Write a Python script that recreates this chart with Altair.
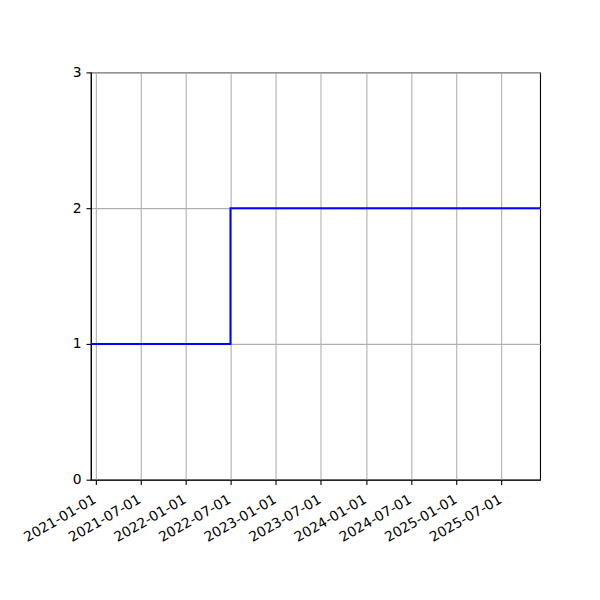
import altair as alt
import pandas as pd

dates = ["2020-12-13", "2022-07-01", "2025-12-05"]
values = [1, 2, 2]
tick_dates = [(2021, 1), (2021, 7), (2022, 1), (2022, 7), (2023, 1), (2023, 7),
              (2024, 1), (2024, 7), (2025, 1), (2025, 7)]
y_ticks = [0, 1, 2, 3]

df = pd.DataFrame({"date": dates, "value": values})

tick_vals = [alt.DateTime(year=y, month=m, date=1, utc=True) for y, m in tick_dates]
dom = [alt.DateTime(year=2020, month=12, date=13, utc=True),
       alt.DateTime(year=2025, month=12, date=5, utc=True)]

chart = alt.Chart(df).mark_line(
    interpolate="step-after", color="#0000ff", strokeWidth=2.0
).encode(
    x=alt.X("date:T", scale=alt.Scale(type="utc", domain=dom, nice=False),
            axis=alt.Axis(values=tick_vals,
                          labelExpr="utcFormat(datum.value, '%Y-%m-%d')",
                          labelAngle=-30, labelAlign="right", labelBaseline="top",
                          labelPadding=7.5, labelOffset=-4.5,
                          title=None)),
    y=alt.Y("value:Q", scale=alt.Scale(domain=[0, 3], nice=False),
            axis=alt.Axis(values=y_ticks, format="d", title=None, labelPadding=5)),
).properties(
    width=450, height=408,
    autosize=alt.AutoSizeParams(type="none"),
    padding={"left": 83, "top": 64, "right": 52, "bottom": 112},
).configure_view(
    stroke="black", strokeWidth=1.1
).configure_axis(
    domainColor="black", domainWidth=1.1,
    tickColor="black", tickSize=4.9, tickWidth=1.1,
    labelColor="black", labelFont="DejaVu Sans", labelFontSize=13.9,
    grid=True, gridColor="#b0b0b0", gridWidth=1.1,
    labelFlush=False, labelOverlap=False,
)

chart.save("out.html", embed_options={"renderer": "svg", "actions": False})
